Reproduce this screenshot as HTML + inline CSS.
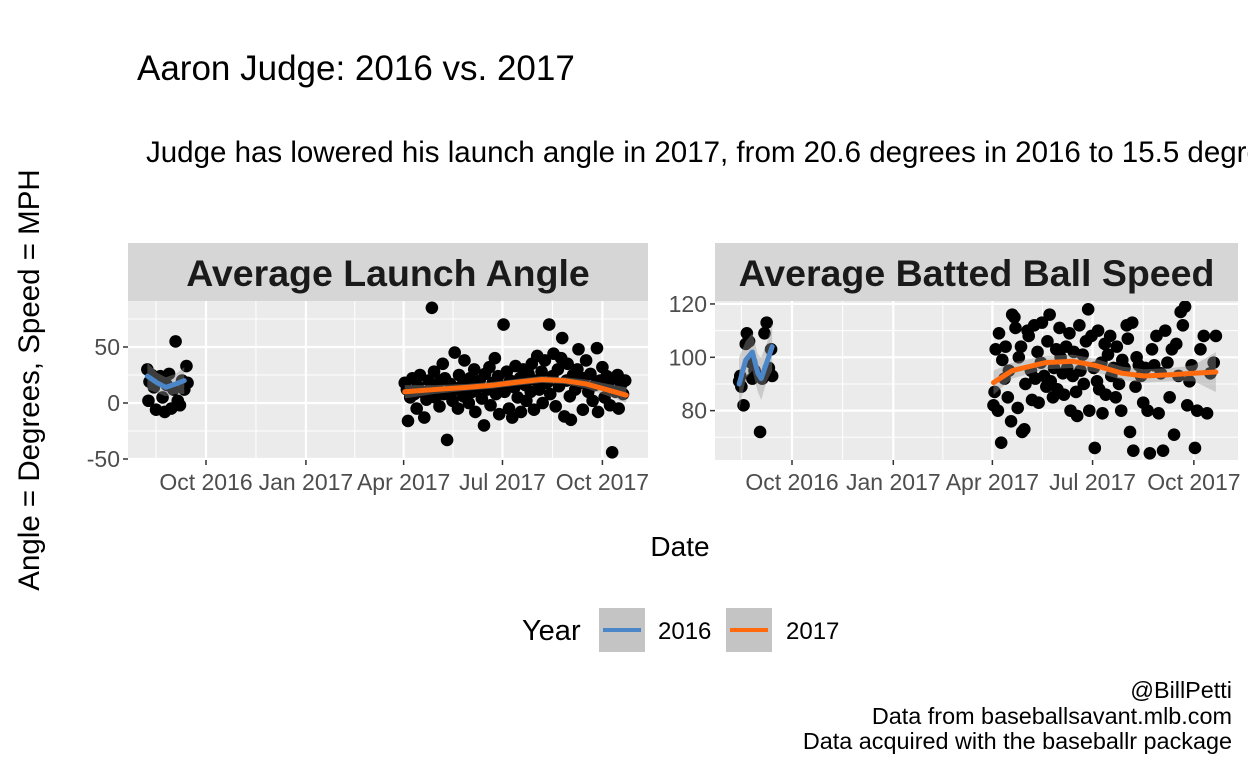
<!DOCTYPE html>
<html><head><meta charset="utf-8"><style>
html,body{margin:0;padding:0;background:#fff;}
svg{display:block;font-family:"Liberation Sans",Arial,sans-serif;}
</style></head><body>
<svg id="chart" width="1248" height="768" viewBox="0 0 1248 768">
<text x="137" y="80" font-size="35" fill="#000">Aaron Judge: 2016 vs. 2017</text>
<text x="146" y="162" font-size="29.5" fill="#000">Judge has lowered his launch angle in 2017, from 20.6 degrees in 2016 to 15.5 degrees in 2017</text>
<text transform="translate(39,380) rotate(-90)" text-anchor="middle" font-size="29.5" fill="#000">Angle = Degrees,  Speed = MPH</text>
<text x="680" y="556" text-anchor="middle" font-size="28" fill="#000">Date</text>
<g>
<text x="522" y="640" font-size="29" fill="#000">Year</text>
<g>
<rect x="599" y="608" width="46" height="44" fill="#c4c4c4"/>
<line x1="603" y1="630" x2="641" y2="630" stroke="#4A86C8" stroke-width="4"/>
<text x="658" y="639" font-size="24" fill="#000">2016</text></g>
<g>
<rect x="726" y="608" width="46" height="44" fill="#c4c4c4"/>
<line x1="730" y1="630" x2="768" y2="630" stroke="#FF6A0E" stroke-width="4"/>
<text x="786" y="639" font-size="24" fill="#000">2017</text></g>
</g>
<g font-size="23.4" fill="#000" text-anchor="end">
<text x="1232" y="698">@BillPetti</text>
<text x="1232" y="724">Data from baseballsavant.mlb.com</text>
<text x="1232" y="749">Data acquired with the baseballr package</text>
</g>
<g id="left"></g><g id="right"></g>
</svg>
<script>
// days since 2016-10-01
const xTickLabels = ["Oct 2016","Jan 2017","Apr 2017","Jul 2017","Oct 2017"];
const xTickDays = [0, 92, 182, 273, 365];
const leftYTicks = [-50, 0, 50];
const rightYTicks = [80, 100, 120];
const angle2016 = [[-54,30],[-53,2],[-52,19],[-50,25],[-48,14],[-46,-6],[-44,20],[-42,24],[-40,5],[-38,-8],[-36,16],[-34,26],[-32,-5],[-30,12],[-28,55],[-26,2],[-24,-2],[-22,20],[-20,12],[-18,33],[-17,18]];
const angle2017 = [[183,18],[185,12],[186,-16],[188,5],[190,22],[192,8],[194,-5],[195,15],[197,25],[199,10],[201,-13],[203,3],[205,20],[206,12],[208,85],[210,28],[211,5],[213,14],[215,-3],[216,20],[218,35],[219,8],[220,22],[222,-33],[224,10],[225,17],[227,2],[229,45],[230,12],[232,-5],[233,25],[235,15],[237,6],[238,38],[240,18],[242,0],[243,22],[245,10],[247,30],[248,-8],[250,14],[252,20],[254,4],[256,-20],[257,26],[259,12],[261,32],[262,-2],[264,18],[266,40],[267,8],[269,24],[270,-10],[272,15],[274,70],[275,10],[277,28],[279,-5],[280,20],[282,-13],[284,14],[285,33],[287,5],[289,22],[290,-8],[292,30],[294,16],[295,2],[297,26],[299,10],[300,35],[302,-6],[304,20],[305,42],[307,12],[309,28],[310,0],[312,38],[314,18],[316,70],[317,8],[319,24],[320,44],[322,-3],[324,30],[325,15],[327,40],[328,58],[330,-12],[332,20],[333,35],[335,6],[336,-15],[338,25],[340,12],[342,30],[343,48],[345,18],[347,-6],[348,22],[350,38],[352,10],[354,26],[356,2],[358,16],[360,49],[361,-8],[363,20],[365,32],[367,5],[369,24],[370,15],[372,-2],[374,-44],[375,22],[377,10],[379,25],[380,-5],[382,16],[384,8],[386,20]];
const speed2016 = [[-48,91],[-47,93],[-46,89],[-44,82],[-42,105],[-41,109],[-39,106],[-37,98],[-36,92],[-34,95],[-32,93],[-29,72],[-27,92],[-25,109],[-23,113],[-21,96],[-19,103],[-18,93]];
const speed2017 = [[183,82],[184,87],[185,103],[187,80],[188,109],[190,68],[191,99],[193,92],[194,104],[196,85],[197,95],[199,76],[200,116],[202,115],[203,111],[205,81],[206,100],[208,104],[209,72],[211,73],[212,90],[214,110],[215,108],[217,95],[218,84],[220,112],[221,92],[223,102],[224,83],[226,98],[227,113],[229,93],[231,89],[232,106],[234,116],[235,91],[237,85],[238,96],[240,103],[241,88],[243,111],[244,100],[246,94],[247,86],[249,104],[250,96],[252,109],[253,80],[255,93],[256,102],[258,87],[259,78],[261,112],[262,95],[264,101],[265,90],[267,106],[269,118],[270,80],[272,108],[274,96],[275,66],[277,91],[278,110],[279,88],[281,98],[282,79],[284,105],[285,86],[287,101],[289,108],[290,93],[292,96],[294,85],[295,104],[297,90],[299,80],[300,99],[302,96],[304,112],[305,107],[307,72],[309,113],[310,65],[312,89],[313,100],[315,97],[317,93],[319,83],[321,96],[323,80],[325,64],[327,103],[329,97],[331,108],[333,79],[335,94],[337,65],[339,110],[341,98],[343,85],[345,103],[347,71],[349,105],[351,93],[353,117],[355,112],[357,119],[359,82],[361,91],[363,97],[366,66],[368,80],[371,103],[374,108],[377,79],[380,94],[383,98],[385,108]];
// smooth fits: [day, fit, lower, upper]
const angleFit2016 = [[-54,24,12,36],[-45,18,9,27],[-37,14,6,23],[-28,17,8,26],[-20,20,8,32]];
const angleFit2017 = [[183,10,4,16],[210,12,8,16],[240,14,11,17],[265,16,13,19],[290,19,16,22],[309,21,18,24],[330,20,17,23],[350,17,13,21],[365,13,8,18],[387,7,0,14]];
const speedFit2016 = [[-48,90,80,100],[-42,99,92,106],[-36,102,95,109],[-31,94,87,101],[-28,92,84,100],[-23,98,91,105],[-18,104,95,113]];
const speedFit2017 = [[183,90.5,86,95],[200,95,92,98],[230,98,95.5,100.5],[255,98.5,96,101],[275,97,94.5,99.5],[300,94,91.5,96.5],[320,93,90.5,95.5],[345,93.5,91,96],[365,94,91,97],[385,94.5,87,102]];

const NS="http://www.w3.org/2000/svg";
function mk(tag,attrs,parent){const e=document.createElementNS(NS,tag);for(const k in attrs)e.setAttribute(k,attrs[k]);parent.appendChild(e);return e;}

function drawPanel(g, cfg){
  const {x0,x1,y0,y1,dx0,dpx,vy0,vpy,yTicks,yMinor,title,pts16,pts17,fit16,fit17,name}=cfg;
  const X=d=>dx0+d*dpx, Y=v=>vy0-(v-yTicks[1])*vpy;
  const strip=mk('rect',{x:x0,y:243,width:x1-x0,height:y0-243,fill:'#D6D6D6'},g);
  
  
  const st=mk('text',{x:(x0+x1)/2,y:286,'text-anchor':'middle','font-size':'37.5','font-weight':'bold',fill:'#1a1a1a'},g);
  st.textContent=title;
  
  
  const bg=mk('rect',{x:x0,y:y0,width:x1-x0,height:y1-y0,fill:'#EBEBEB'},g);
  
  
  const clipId=name+'-clip';
  const cp=mk('clipPath',{id:clipId},g); mk('rect',{x:x0,y:y0,width:x1-x0,height:y1-y0},cp);
  const inner=mk('g',{'clip-path':'url(#'+clipId+')'},g);
  const minorDays=[-46,46,137,227.5,319,411];
  minorDays.forEach(d=>mk('line',{x1:X(d),x2:X(d),y1:y0,y2:y1,stroke:'#fff','stroke-width':1},inner));
  yMinor.forEach(v=>mk('line',{x1:x0,x2:x1,y1:Y(v),y2:Y(v),stroke:'#fff','stroke-width':1},inner));
  xTickDays.forEach(d=>mk('line',{x1:X(d),x2:X(d),y1:y0,y2:y1,stroke:'#fff','stroke-width':2.2},inner));
  yTicks.forEach(v=>mk('line',{x1:x0,x2:x1,y1:Y(v),y2:Y(v),stroke:'#fff','stroke-width':2.2},inner));
  [pts16,pts17].forEach((arr,i)=>arr.forEach(p=>{
    const c=mk('circle',{cx:X(p[0]),cy:Y(p[1]),r:6.3,fill:'#000'},inner);
    
    
  }));
  [[fit16,'#4A86C8','2016'],[fit17,'#FF6A0E','2017']].forEach(([f,col,yr])=>{
    let d='M'+f.map(r=>X(r[0])+','+Y(r[3])).join('L')+'L'+f.slice().reverse().map(r=>X(r[0])+','+Y(r[2])).join('L')+'Z';
    const rib=mk('path',{d:d,fill:'#999','fill-opacity':0.4},inner);
    
    
    const ln=mk('polyline',{points:f.map(r=>X(r[0])+','+Y(r[1])).join(' '),fill:'none',stroke:col,'stroke-width':5,'stroke-linejoin':'round','stroke-linecap':'round'},inner);
    
    
  });
  xTickDays.forEach((d,i)=>{
    mk('line',{x1:X(d),x2:X(d),y1:y1,y2:y1+5,stroke:'#333','stroke-width':1.5},g);
    const t=mk('text',{x:X(d),y:y1+30,'text-anchor':'middle','font-size':'23','fill':'#4d4d4d'},g);
    t.textContent=xTickLabels[i];
    
    
  });
  yTicks.forEach(v=>{
    mk('line',{x1:x0-5,x2:x0,y1:Y(v),y2:Y(v),stroke:'#333','stroke-width':1.5},g);
    const t=mk('text',{x:x0-8,y:Y(v)+8,'text-anchor':'end','font-size':'23',fill:'#4d4d4d'},g);
    t.textContent=v;
    
    
  });
}
drawPanel(document.getElementById('left'),{x0:128,x1:648,y0:301,y1:460,dx0:206,dpx:1.086,vy0:403,vpy:1.12,yTicks:leftYTicks,yMinor:[-25,25,75],title:'Average Launch Angle',pts16:angle2016,pts17:angle2017,fit16:angleFit2016,fit17:angleFit2017,name:'launch-angle'});
drawPanel(document.getElementById('right'),{x0:715,x1:1238,y0:301,y1:460,dx0:792,dpx:1.101,vy0:357.3,vpy:2.667,yTicks:rightYTicks,yMinor:[70,90,110],title:'Average Batted Ball Speed',pts16:speed2016,pts17:speed2017,fit16:speedFit2016,fit17:speedFit2017,name:'ball-speed'});
document.getElementById('left');
document.getElementById('left');
document.getElementById('right');
document.getElementById('right');
</script>
</body></html>
